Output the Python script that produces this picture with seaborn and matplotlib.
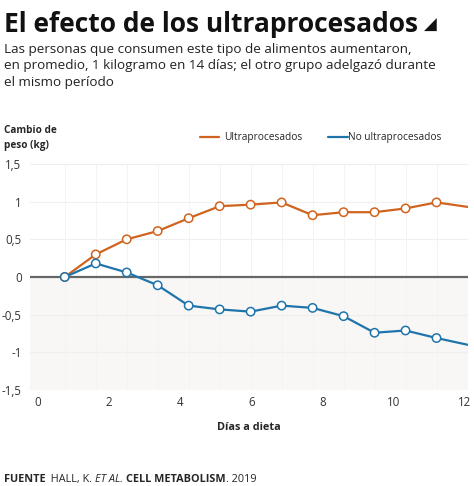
import matplotlib
matplotlib.use('Agg')
import pandas as pd
import matplotlib.pyplot as plt
import seaborn as sns

# datos
dias = [0.76, 1.63, 2.5, 3.37, 4.24, 5.11, 5.98, 6.85, 7.72, 8.59, 9.46, 10.33, 11.2, 12.08]
ultra = [0.0, 0.30, 0.50, 0.61, 0.78, 0.94, 0.96, 0.99, 0.82, 0.86, 0.86, 0.91, 0.99, 0.93]
no_ultra = [0.0, 0.18, 0.06, -0.11, -0.38, -0.43, -0.46, -0.38, -0.41, -0.52, -0.74, -0.71, -0.81, -0.90]
grupos = ['Ultraprocesados', 'No ultraprocesados']
y_ticks = [-1.5, -1, -0.5, 0, 0.5, 1, 1.5]
y_labels = ['-1,5', '-1', '-0,5', '0', '0,5', '1', '1,5']
x_ticks = [0, 2, 4, 6, 8, 10, 12]

colores = {'Ultraprocesados': '#d0641f', 'No ultraprocesados': '#1f74ac'}

df = pd.DataFrame({
    'dia': dias * 2,
    'peso': ultra + no_ultra,
    'grupo': [grupos[0]] * len(dias) + [grupos[1]] * len(dias),
})
df_marks = df[df['dia'] < 12].copy()

sns.set_style('white')
plt.rcParams['font.family'] = ['Open Sans', 'DejaVu Sans']

fig = plt.figure(figsize=(4.74, 4.86), dpi=100)
ax = fig.add_axes([0.063, 0.1975, 0.924, 0.4651])

ax.axhspan(-1.5, 0, color='#f8f7f5', zorder=0, lw=0)
for yv in [-1.5, -1, -0.5, 0.5, 1, 1.5]:
    ax.axhline(yv, color='#efefef', lw=0.8, zorder=1)
for xv in dias[:-1]:
    ax.axvline(xv, color='#f3f3f3', lw=0.7, zorder=1)
ax.axhline(0, color='#666666', lw=1.6, zorder=2)

sns.lineplot(data=df, x='dia', y='peso', hue='grupo', palette=colores,
             lw=1.6, legend=False, ax=ax, zorder=3)
sns.scatterplot(data=df_marks, x='dia', y='peso', hue='grupo', palette=colores,
                s=36, linewidth=1.1, legend=False, ax=ax, zorder=4)
# marcador blanco con borde del color de la serie
ax.collections[-1].set_facecolor('white')
ax.collections[-1].set_edgecolor([colores[v] for v in df_marks['grupo']])

ax.set_xlim(-0.22, 12.08)
ax.set_ylim(-1.5, 1.5)
ax.set_yticks(y_ticks)
ax.set_yticklabels(y_labels)
ax.set_xticks(x_ticks)
ax.tick_params(axis='both', length=0, labelsize=8.3, colors='#333333')
ax.tick_params(axis='y', pad=6)
ax.tick_params(axis='x', pad=4)
sns.despine(ax=ax, left=True, bottom=True)
ax.set_xlabel('Días a dieta', fontsize=7.8, fontweight='bold', labelpad=10)
ax.set_ylabel('')

# leyenda manual
fig.text(0.008, 0.69, 'Cambio de\npeso (kg)', fontsize=7.2, fontweight='bold',
         va='bottom', ha='left', linespacing=1.5)
ly = 0.718
fig.lines.append(plt.Line2D([0.422, 0.462], [ly, ly], color=colores[grupos[0]],
                            lw=1.6, transform=fig.transFigure))
fig.text(0.472, ly, grupos[0], fontsize=7.3, va='center', ha='left')
fig.lines.append(plt.Line2D([0.692, 0.734], [ly, ly], color=colores[grupos[1]],
                            lw=1.6, transform=fig.transFigure))
fig.text(0.735, ly, grupos[1], fontsize=7.3, va='center', ha='left')

t = fig.text(0.008, 0.935, 'El efecto de los ultraprocesados', fontsize=19,
             fontweight='bold', va='baseline', ha='left', color='#111111')
fig.canvas.draw()
r = fig.canvas.get_renderer()
xt = t.get_window_extent(r).x1 / fig.bbox.width
fig.text(xt + 0.012, 0.938, '◢', fontsize=12, va='baseline', ha='left',
         color='#111111', family=['DejaVu Sans'])
fig.text(0.008, 0.912, 'Las personas que consumen este tipo de alimentos aumentaron,\n'
         'en promedio, 1 kilogramo en 14 días; el otro grupo adelgazó durante\n'
         'el mismo período', fontsize=9.7, va='top', ha='left', color='#222222',
         linespacing=1.36)

# fuente
y_src = 0.0
t = fig.text(0.008, y_src + 0.003, 'FUENTE', fontsize=7.8, fontweight='bold', va='bottom')
partes = [('  HALL, K. ', 'normal', 'normal'), ('ET AL.', 'normal', 'italic'),
          (' ', 'normal', 'normal'), ('CELL METABOLISM', 'bold', 'normal'),
          ('. 2019', 'normal', 'normal')]
x0 = t.get_window_extent(r).x1 / fig.bbox.width
for txt, w, st in partes:
    tt = fig.text(x0, y_src + 0.003, txt, fontsize=7.8, fontweight=w, style=st, va='bottom')
    x0 = tt.get_window_extent(r).x1 / fig.bbox.width

fig.savefig('out.png', dpi=100)
